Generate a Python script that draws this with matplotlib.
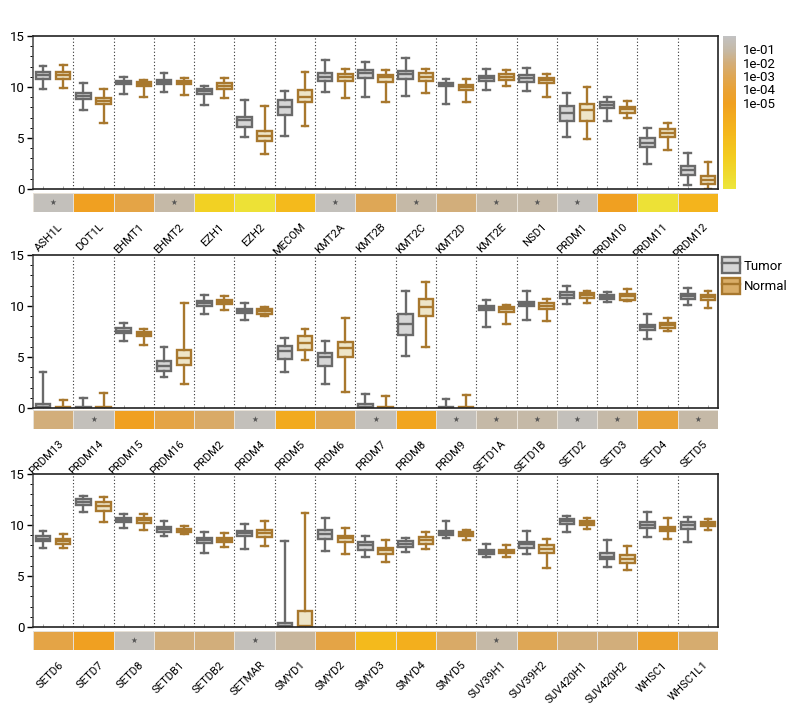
import numpy as np
import matplotlib
matplotlib.use("Agg")
import matplotlib.pyplot as plt
from matplotlib import font_manager
from matplotlib.colors import LinearSegmentedColormap, Normalize
from matplotlib.patches import Patch
from matplotlib.lines import Line2D
from matplotlib.cm import ScalarMappable

# pick a narrow-ish font if one is installed
_names = {f.name for f in font_manager.fontManager.ttflist}
if "Liberation Sans Narrow" in _names:
    plt.rcParams['font.family'] = ['Liberation Sans Narrow', 'DejaVu Sans']
    SCALE = 1.0
elif "Roboto" in _names:
    plt.rcParams['font.family'] = ['Roboto', 'DejaVu Sans']
    SCALE = 0.95
else:
    plt.rcParams['font.family'] = ['DejaVu Sans']
    SCALE = 0.85

# ---------------- data ----------------
genes1 = ["ASH1L", "DOT1L", "EHMT1", "EHMT2", "EZH1", "EZH2", "MECOM", "KMT2A", "KMT2B",
          "KMT2C", "KMT2D", "KMT2E", "NSD1", "PRDM1", "PRDM10", "PRDM11", "PRDM12"]
genes2 = ["PRDM13", "PRDM14", "PRDM15", "PRDM16", "PRDM2", "PRDM4", "PRDM5", "PRDM6", "PRDM7",
          "PRDM8", "PRDM9", "SETD1A", "SETD1B", "SETD2", "SETD3", "SETD4", "SETD5"]
genes3 = ["SETD6", "SETD7", "SETD8", "SETDB1", "SETDB2", "SETMAR", "SMYD1", "SMYD2", "SMYD3",
          "SMYD4", "SMYD5", "SUV39H1", "SUV39H2", "SUV420H1", "SUV420H2", "WHSC1", "WHSC1L1"]

# box stats: (whislo, q1, med, q3, whishi)
tumor1 = [(9.8, 10.8, 11.2, 11.5, 12.1), (7.7, 8.8, 9.1, 9.45, 10.4), (9.3, 10.3, 10.5, 10.6, 11.0),
          (9.55, 10.3, 10.5, 10.65, 11.4), (8.2, 9.3, 9.6, 9.8, 10.1), (5.1, 6.1, 6.8, 7.1, 8.75),
          (5.2, 7.3, 8.0, 8.7, 9.6), (9.5, 10.6, 11.0, 11.35, 12.65), (9.0, 10.85, 11.4, 11.65, 12.45),
          (9.1, 10.75, 11.25, 11.6, 12.8), (8.3, 10.05, 10.25, 10.4, 10.75), (9.7, 10.55, 10.85, 11.1, 11.75),
          (9.6, 10.5, 10.85, 11.2, 11.85), (5.1, 6.7, 7.45, 8.15, 9.4), (6.65, 7.9, 8.2, 8.5, 9.05),
          (2.5, 4.1, 4.55, 5.0, 5.95), (0.4, 1.35, 1.85, 2.3, 3.5)]
normal1 = [(9.9, 10.75, 11.2, 11.5, 12.2), (6.45, 8.3, 8.65, 8.9, 9.85), (9.0, 10.05, 10.25, 10.45, 10.7),
           (9.25, 10.25, 10.45, 10.6, 10.85), (8.95, 9.8, 10.05, 10.35, 10.85), (3.4, 4.75, 5.2, 5.7, 8.15),
           (6.15, 8.5, 9.05, 9.7, 11.45), (8.95, 10.6, 11.0, 11.3, 11.8), (8.5, 10.5, 10.95, 11.2, 11.65),
           (9.45, 10.6, 11.0, 11.4, 11.8), (8.5, 9.7, 10.0, 10.2, 10.75), (10.05, 10.7, 11.0, 11.25, 11.65),
           (9.0, 10.35, 10.65, 10.9, 11.25), (4.9, 6.7, 7.75, 8.3, 10.0), (6.95, 7.5, 7.8, 8.0, 8.65),
           (3.85, 5.05, 5.5, 5.9, 6.45), (0.0, 0.45, 0.85, 1.25, 2.6)]
tumor2 = [(0.0, 0.0, 0.12, 0.35, 3.55), (0.0, 0.0, 0.0, 0.05, 0.95), (6.6, 7.32, 7.58, 7.81, 8.33),
          (3.04, 3.66, 4.12, 4.58, 5.98), (9.18, 10.0, 10.29, 10.49, 11.1), (8.66, 9.28, 9.5, 9.7, 10.26),
          (3.53, 4.8, 5.56, 6.11, 6.83), (2.32, 4.15, 5.0, 5.36, 6.55), (0.0, 0.0, 0.12, 0.36, 1.4),
          (5.13, 7.19, 8.24, 9.18, 11.5), (0.0, 0.0, 0.0, 0.05, 0.88), (7.94, 9.58, 9.8, 10.0, 10.56),
          (8.66, 9.97, 10.2, 10.42, 11.5), (10.23, 10.78, 11.11, 11.37, 11.99), (10.42, 10.72, 10.92, 11.08, 11.34),
          (6.76, 7.68, 7.94, 8.17, 9.18), (10.07, 10.69, 10.95, 11.21, 11.76)]
normal2 = [(0.0, 0.0, 0.0, 0.05, 0.8), (0.0, 0.0, 0.0, 0.05, 1.5), (6.18, 7.03, 7.22, 7.42, 7.78),
           (2.32, 4.22, 4.93, 5.72, 10.26), (9.64, 10.16, 10.39, 10.62, 10.95), (8.99, 9.25, 9.5, 9.7, 9.93),
           (4.71, 5.65, 6.37, 7.06, 7.78), (1.57, 4.97, 5.88, 6.47, 8.79), (0.0, 0.0, 0.0, 0.05, 1.2),
           (6.01, 9.02, 9.87, 10.72, 12.39), (0.0, 0.0, 0.0, 0.05, 1.24), (8.27, 9.41, 9.67, 9.87, 10.07),
           (8.53, 9.74, 10.03, 10.29, 10.69), (10.29, 10.78, 11.05, 11.27, 11.44), (10.52, 10.62, 10.95, 11.21, 11.67),
           (7.58, 7.84, 8.1, 8.33, 8.86), (9.77, 10.62, 10.85, 11.05, 11.44)]
tumor3 = [(7.7, 8.39, 8.65, 8.88, 9.4), (11.3, 11.92, 12.25, 12.51, 12.87), (9.73, 10.25, 10.45, 10.65, 11.07),
          (8.88, 9.33, 9.6, 9.79, 10.35), (7.24, 8.19, 8.52, 8.75, 9.27), (7.63, 8.88, 9.17, 9.4, 10.09),
          (0.0, 0.0, 0.14, 0.36, 8.45), (7.47, 8.65, 9.1, 9.47, 10.68), (6.91, 7.57, 8.02, 8.29, 8.94),
          (7.37, 7.83, 8.16, 8.42, 8.71), (8.71, 9.01, 9.24, 9.43, 10.35), (6.88, 7.17, 7.37, 7.57, 8.09),
          (7.11, 7.7, 8.09, 8.35, 9.4), (9.33, 10.12, 10.35, 10.55, 10.91), (5.93, 6.62, 6.91, 7.21, 8.55),
          (8.84, 9.73, 10.02, 10.28, 11.3), (8.32, 9.6, 9.96, 10.25, 10.81)]
normal3 = [(7.7, 8.12, 8.39, 8.61, 9.14), (10.32, 11.33, 11.82, 12.25, 12.74), (9.53, 10.22, 10.45, 10.68, 11.1),
           (9.07, 9.27, 9.47, 9.63, 9.86), (7.83, 8.32, 8.55, 8.75, 9.24), (7.93, 8.84, 9.2, 9.47, 10.35),
           (0.0, 0.0, 0.05, 1.6, 11.14), (7.11, 8.29, 8.68, 8.97, 9.73), (6.35, 7.14, 7.57, 7.73, 8.52),
           (7.63, 8.16, 8.52, 8.78, 9.3), (8.52, 8.91, 9.11, 9.3, 9.47), (6.85, 7.21, 7.4, 7.57, 8.06),
           (5.83, 7.3, 7.66, 8.06, 8.58), (9.63, 9.99, 10.22, 10.42, 10.65), (5.54, 6.32, 6.68, 7.04, 7.99),
           (8.58, 9.37, 9.6, 9.79, 10.71), (9.5, 9.86, 10.09, 10.32, 10.61)]

# p-values for the strips
pvals1 = [0.5, 1e-5, 3e-4, 0.1, 3e-10, 1e-11, 3e-8, 0.5, 1e-3, 0.1, 1e-2, 0.1, 0.1, 0.5, 1e-5, 1e-11, 1e-7]
pvals2 = [1e-2, 0.5, 1e-5, 3e-4, 3e-3, 0.5, 1e-6, 1e-3, 0.5, 3e-6, 0.5, 0.1, 0.1, 0.5, 0.1, 1e-4, 0.1]
pvals3 = [3e-4, 1e-5, 0.5, 1e-2, 1e-2, 0.5, 0.05, 3e-4, 3e-8, 3e-7, 3e-3, 0.1, 1e-3, 1e-2, 1e-2, 3e-5, 5e-3]
sig_cut = 0.06

cbar_labels = ["1e-01", "1e-02", "1e-03", "1e-04", "1e-05"]
cbar_vals = [1, 2, 3, 4, 5]
series = ["Tumor", "Normal"]

# ---------------- style ----------------
t_edge, t_fill = "#6a6a6a", "#d6d6d6"
n_edge, n_fill = "#a8782e", "#eee5c8"
cmap = LinearSegmentedColormap.from_list("pv", [
    (0.0, "#c2c2c2"), (0.09, "#c5b9a6"), (0.17, "#d2ae7c"), (0.26, "#dea756"),
    (0.35, "#e9a236"), (0.44, "#f0a020"), (0.61, "#f4b41c"), (0.79, "#f3cc1e"), (1.0, "#ece63c")])
norm = Normalize(0, 11.5)

fig = plt.figure(figsize=(7.92, 7.2), dpi=100)
W = 792.0
H = 720.0
x0, x1 = 33, 718
panels = [(genes1, tumor1, normal1, pvals1, 36, 189, 193, 212),
          (genes2, tumor2, normal2, pvals2, 255, 408, 410, 429),
          (genes3, tumor3, normal3, pvals3, 474, 627, 631, 650)]


def stats(rows):
    return [dict(whislo=r[0], q1=r[1], med=r[2], q3=r[3], whishi=r[4], fliers=[]) for r in rows]


axes = []
for gi, (genes, tum, nor, pv, top, bot, stop, sbot) in enumerate(panels):
    ax = fig.add_axes([x0 / W, 1 - bot / H, (x1 - x0) / W, (bot - top) / H])
    axes.append(ax)
    n = len(genes)
    pos = np.arange(n)
    for data, off, ec, fc in ((tum, -0.25, t_edge, t_fill), (nor, 0.25, n_edge, n_fill)):
        ax.bxp(stats(data), positions=pos + off, widths=0.36, capwidths=0.17, showfliers=False,
               patch_artist=True,
               boxprops=dict(facecolor=fc, edgecolor=ec, linewidth=1.7),
               medianprops=dict(color=ec, linewidth=1.7),
               whiskerprops=dict(color=ec, linewidth=1.7),
               capprops=dict(color=ec, linewidth=1.7))
    for b in pos[:-1] + 0.5:
        ax.axvline(b, color="#333333", linestyle=(0, (1, 2)), linewidth=0.8, zorder=0)
    ax.set_xlim(-0.5, n - 0.5)
    ax.set_ylim(0, 15)
    ax.set_yticks([0, 5, 10, 15])
    ax.set_yticks(np.arange(0, 16, 1), minor=True)
    ax.set_xticks(np.concatenate([pos - 0.25, pos + 0.25]))
    ax.set_xticklabels([])
    ax.tick_params(axis="x", length=2, width=0.6, color="#999999", direction="in")
    ax.tick_params(axis="y", which="major", length=4, width=1, labelsize=10 * SCALE, pad=2)
    ax.tick_params(axis="y", which="minor", length=2, width=0.7)
    for s in ax.spines.values():
        s.set_linewidth(1.2)
        s.set_color("#222222")
    ax.spines["left"].set_color("#555555")

    # p-value strip
    sax = fig.add_axes([x0 / W, 1 - sbot / H, (x1 - x0) / W, (sbot - stop) / H])
    vals = -np.log10(np.array(pv))
    sax.pcolormesh(np.arange(n + 1) - 0.5, [0, 1], vals[None, :], cmap=cmap, norm=norm,
                   edgecolor="#e6e0d6", linewidth=0.4)
    for i, p in enumerate(pv):
        if p >= sig_cut:
            sax.text(i, 0.48, "★", ha="center", va="center", fontsize=5.5, color="#555555",
                     family="DejaVu Sans")
    sax.set_xlim(-0.5, n - 0.5)
    sax.set_ylim(0, 1)
    sax.set_yticks([])
    sax.set_xticks(pos + 0.12)
    sax.set_xticklabels(genes, rotation=45, ha="right", rotation_mode="anchor", fontsize=8.5 * SCALE)
    sax.tick_params(axis="x", length=0, pad=7)
    for s in sax.spines.values():
        s.set_visible(False)

# colorbar
cax = fig.add_axes([723 / W, 1 - 189 / H, 13 / W, 153 / H])
cb = fig.colorbar(ScalarMappable(norm=norm, cmap=cmap), cax=cax)
cax.invert_yaxis()
cb.set_ticks(cbar_vals)
cb.set_ticklabels(cbar_labels)
cb.outline.set_visible(False)
cax.tick_params(length=0, labelsize=10 * SCALE, pad=5)

# legend
handles = [(Patch(facecolor=t_fill, edgecolor=t_edge, linewidth=1.7), Line2D([], [], color=t_edge, lw=1.7)),
           (Patch(facecolor="#d9ad68", edgecolor=n_edge, linewidth=1.7), Line2D([], [], color=n_edge, lw=1.7))]
axes[1].legend(handles, series, loc="upper left", bbox_to_anchor=(0.998, 1.02), frameon=False,
               fontsize=10 * SCALE, handlelength=1.4, handleheight=1.5, handletextpad=0.25,
               labelspacing=0.35, borderaxespad=0.2, borderpad=0.2)

fig.savefig("out.png", dpi=100)
